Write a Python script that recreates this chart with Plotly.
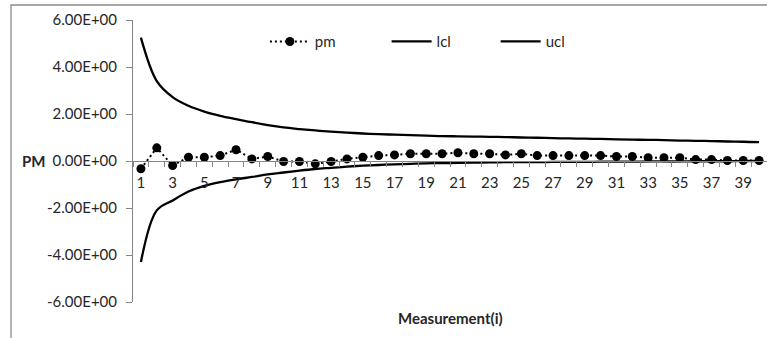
import plotly.graph_objects as go

# Measurement index (category axis)
measurement = list(range(1, 41))

# Process measure per measurement
pm = [-0.33, 0.56, -0.19, 0.16, 0.16, 0.23, 0.48, 0.09, 0.19, -0.02,
      -0.02, -0.12, -0.02, 0.09, 0.16, 0.23, 0.26, 0.31, 0.31, 0.31,
      0.35, 0.31, 0.31, 0.26, 0.31, 0.23, 0.23, 0.23, 0.23, 0.23,
      0.19, 0.19, 0.14, 0.14, 0.14, 0.06, 0.06, 0.02, 0.02, 0.02]

# Lower control limit
lcl = [-4.30, -2.10, -1.68, -1.30, -1.06, -0.90, -0.78, -0.68, -0.57, -0.49,
       -0.41, -0.34, -0.29, -0.24, -0.20, -0.17, -0.14, -0.12, -0.10, -0.09,
       -0.08, -0.07, -0.06, -0.05, -0.05, -0.05, -0.04, -0.04, -0.04, -0.03,
       -0.03, -0.03, -0.02, -0.02, -0.02, -0.01, -0.01, -0.01, 0.00, 0.00]

# Upper control limit
ucl = [5.25, 3.40, 2.72, 2.35, 2.10, 1.92, 1.78, 1.65, 1.53, 1.43,
       1.36, 1.30, 1.25, 1.21, 1.17, 1.14, 1.12, 1.10, 1.08, 1.06,
       1.05, 1.04, 1.03, 1.02, 1.00, 0.99, 0.97, 0.96, 0.95, 0.94,
       0.92, 0.91, 0.90, 0.89, 0.87, 0.86, 0.85, 0.83, 0.82, 0.80]

y_tick_values = [6, 4, 2, 0, -2, -4, -6]
y_tick_labels = ["6.00E+00", "4.00E+00", "2.00E+00", "0.00E+00",
                 "-2.00E+00", "-4.00E+00", "-6.00E+00"]
x_tick_values = list(range(1, 40, 2))

FONT = "Lato"
TXT = "#262626"
AXIS = "#868686"


def legend_box(x):
    return dict(
        orientation="h", x=x, xanchor="left", y=0.923, yanchor="middle",
        font=dict(family=FONT, size=15, color=TXT), itemwidth=40,
        bgcolor="rgba(0,0,0,0)", itemclick=False, itemdoubleclick=False,
    )


fig = go.Figure()
fig.add_trace(go.Scatter(
    x=measurement, y=pm, name="pm", mode="lines+markers", legend="legend",
    line=dict(color="black", width=2, dash="2px,3px"),
    marker=dict(color="black", size=9),
))
fig.add_trace(go.Scatter(
    x=measurement, y=lcl, name="lcl", mode="lines", legend="legend2",
    line=dict(color="black", width=2.3, shape="spline", smoothing=1),
))
fig.add_trace(go.Scatter(
    x=measurement, y=ucl, name="ucl", mode="lines", legend="legend3",
    line=dict(color="black", width=2.3, shape="spline", smoothing=1),
))

fig.update_layout(
    width=767, height=338,
    margin=dict(l=133, r=0, t=20, b=36),
    paper_bgcolor="white", plot_bgcolor="white",
    font=dict(family=FONT, size=15, color=TXT),
    showlegend=True,
    legend=legend_box(0.208),
    legend2=legend_box(0.400),
    legend3=legend_box(0.572),
    xaxis=dict(
        range=[0.5, 40.5], anchor="free", position=0.5,
        showgrid=False, zeroline=False,
        showline=True, linecolor=AXIS, linewidth=1,
        tickmode="array", tickvals=x_tick_values,
        ticks="", ticklabelstandoff=8,
        tickfont=dict(family=FONT, size=15, color=TXT),
        minor=dict(ticks="outside", ticklen=5, tickcolor=AXIS,
                   tick0=0.5, dtick=1, showgrid=False),
    ),
    yaxis=dict(
        range=[-6, 6], showgrid=False, zeroline=False,
        showline=True, linecolor=AXIS, linewidth=1,
        tickmode="array", tickvals=y_tick_values, ticktext=y_tick_labels,
        ticks="outside", ticklen=6, tickcolor=AXIS, ticklabelstandoff=6,
        tickfont=dict(family=FONT, size=15, color=TXT),
    ),
    shapes=[dict(
        type="rect", xref="paper", yref="paper",
        x0=-0.1924, x1=1.2, y0=-0.3, y1=1.0532,
        line=dict(color="#8c8c8c", width=1.3), layer="below",
    )],
    annotations=[
        dict(text="<b>PM</b>", xref="paper", yref="y", x=-0.136, y=0,
             xanchor="right", yanchor="middle", showarrow=False,
             font=dict(family=FONT, size=15, color=TXT)),
        dict(text="<b>Measurement(i)</b>", xref="paper", yref="paper",
             x=0.5, y=-0.056, xanchor="center", yanchor="middle",
             showarrow=False, font=dict(family=FONT, size=15, color=TXT)),
    ],
)

fig.write_html("out.html")
